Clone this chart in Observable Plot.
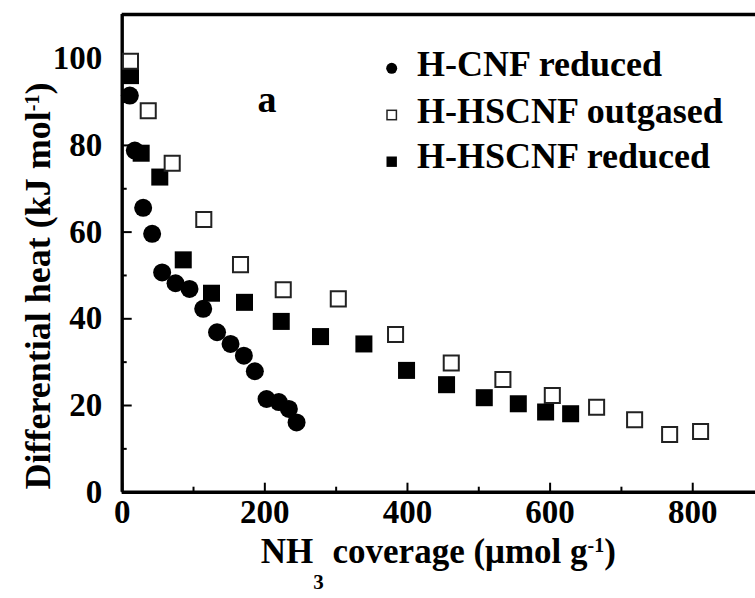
<!DOCTYPE html>
<html><head><meta charset="utf-8">
<script src="https://cdn.jsdelivr.net/npm/d3@7"></script>
<script src="https://cdn.jsdelivr.net/npm/@observablehq/plot@0.6"></script>
<style>
body{margin:0;background:#fff;}
#wrap{position:relative;width:755px;height:598px;}
</style></head><body><div id="wrap"></div>
<script>
// ---- data ----
const seriesNames = ["H-CNF reduced", "H-HSCNF outgased", "H-HSCNF reduced"];

const cnfRedX = [10.7, 17.7, 29.4, 42, 56, 74.8, 94.4, 113.6, 133, 151.9, 170.6, 186, 202.4, 219.6, 233.7, 244.5];
const cnfRedY = [91.5, 78.8, 65.6, 59.6, 50.7, 48.2, 46.9, 42.3, 36.9, 34.2, 31.5, 27.9, 21.5, 20.8, 19.2, 16.1];

const hsOutX = [11.6, 36.5, 70.1, 114.4, 165.9, 225.8, 303, 383.3, 461.4, 533.8, 603.1, 665.2, 718.5, 767.6, 811];
const hsOutY = [99.4, 88.0, 75.9, 62.9, 52.5, 46.7, 44.6, 36.4, 29.8, 26.0, 22.3, 19.6, 16.7, 13.3, 14.0];

const hsRedX = [11.6, 26.6, 52.7, 85.6, 125.2, 171.5, 223, 278.1, 338.9, 398.7, 454.8, 507.7, 555.4, 593.7, 628.8];
const hsRedY = [96.1, 78.2, 72.7, 53.6, 45.9, 43.8, 39.4, 35.9, 34.2, 28.1, 24.8, 21.8, 20.4, 18.5, 18.1];

const xMajor = [0, 200, 400, 600, 800];
const xMinor = [100, 300, 500, 700];
const yMajor = [0, 20, 40, 60, 80, 100];
const yMinor = [10, 30, 50, 70, 90];
const xDomain = [0, 888];
const yDomain = [0, 110.2];
const panelLabel = [{x: 203, y: 90.5, text: "a"}];

// ---- build ----
const toRows = (xs, ys) => xs.map((x, i) => ({x, y: ys[i]}));
const cnfRed = toRows(cnfRedX, cnfRedY);
const hsOut = toRows(hsOutX, hsOutY);
const hsRed = toRows(hsRedX, hsRedY);

const FONT = "'Liberation Serif', 'Times New Roman', serif";

const plot = Plot.plot({
  width: 755, height: 598,
  marginLeft: 121.7, marginRight: 0, marginTop: 14, marginBottom: 106.3,
  style: {fontFamily: FONT, fontWeight: "bold", fontSize: "33px", background: "white", overflow: "visible", color: "black"},
  x: {domain: xDomain, label: null},
  y: {domain: yDomain, label: null},
  marks: [
    Plot.axisX(xMinor, {anchor: "bottom", tickSize: -5, tickFormat: () => "", strokeWidth: 2, label: null}),
    Plot.axisX(xMajor, {anchor: "bottom", tickSize: -9, tickFormat: () => "", strokeWidth: 2, label: null}),
    Plot.axisX(xMajor, {anchor: "bottom", tickSize: 0, tickPadding: 7, fontSize: 33, label: null}),
    Plot.axisY(yMinor, {anchor: "left", tickSize: -5, tickFormat: () => "", strokeWidth: 2, label: null}),
    Plot.axisY(yMajor, {anchor: "left", tickSize: -10, tickFormat: () => "", strokeWidth: 2, label: null}),
    Plot.axisY(yMajor, {anchor: "left", tickSize: 0, tickPadding: 20, fontSize: 33, label: null}),
    Plot.ruleX([xDomain[0]], {strokeWidth: 3.4}),
    Plot.ruleY([yDomain[0], yDomain[1]], {strokeWidth: 3.4}),
    Plot.dot(hsRed, {x: "x", y: "y", symbol: "square", r: 9.6, fill: "black"}),
    Plot.dot(hsOut, {x: "x", y: "y", symbol: "square", r: 8.5, fill: "white", stroke: "#222", strokeWidth: 2}),
    Plot.dot(cnfRed, {x: "x", y: "y", r: 9, fill: "black"}),
    Plot.text(panelLabel, {x: "x", y: "y", text: "text", fontSize: 38, textAnchor: "middle", lineAnchor: "middle"})
  ]
});
document.getElementById("wrap").appendChild(plot);

// ---- axis titles & legend ----
const svg = d3.select(plot);
const xr = plot.scale("x").range;
const xt = svg.append("text").attr("x", (xr[0] + xr[1]) / 2).attr("y", 563)
  .attr("text-anchor", "middle").attr("font-size", 35).attr("font-family", FONT).attr("font-weight", "bold");
xt.append("tspan").text("NH");
xt.append("tspan").attr("font-size", 21).attr("dy", 26).text("3");
xt.append("tspan").attr("dy", -26).text(" coverage (μmol g");
xt.append("tspan").attr("font-size", 20).attr("dy", -11).text("-1");
xt.append("tspan").attr("dy", 11).text(")");

const yt = svg.append("text").attr("transform", "translate(50,286) rotate(-90)")
  .attr("text-anchor", "middle").attr("font-size", 36).attr("font-family", FONT).attr("font-weight", "bold");
yt.append("tspan").text("Differential heat (kJ mol");
yt.append("tspan").attr("font-size", 20).attr("dy", -11).text("-1");
yt.append("tspan").attr("dy", 11).text(")");

const leg = svg.append("g").attr("font-size", 36).attr("font-family", FONT).attr("font-weight", "bold")
  .attr("text-anchor", "start");
const legBase = [76, 123, 168];
const legMarkY = [68.3, 115, 161.7];
seriesNames.forEach((name, i) => {
  leg.append("text").attr("x", 417).attr("y", legBase[i]).attr("text-anchor", "start").text(name);
});
leg.append("circle").attr("cx", 391.7).attr("cy", legMarkY[0]).attr("r", 5.5).attr("fill", "black");
leg.append("rect").attr("x", 387).attr("y", legMarkY[1] - 4.7).attr("width", 9.4).attr("height", 9.4)
  .attr("fill", "white").attr("stroke", "#222").attr("stroke-width", 1.5);
leg.append("rect").attr("x", 386.5).attr("y", legMarkY[2] - 5.2).attr("width", 10.4).attr("height", 10.4).attr("fill", "black");
</script>
</body></html>
